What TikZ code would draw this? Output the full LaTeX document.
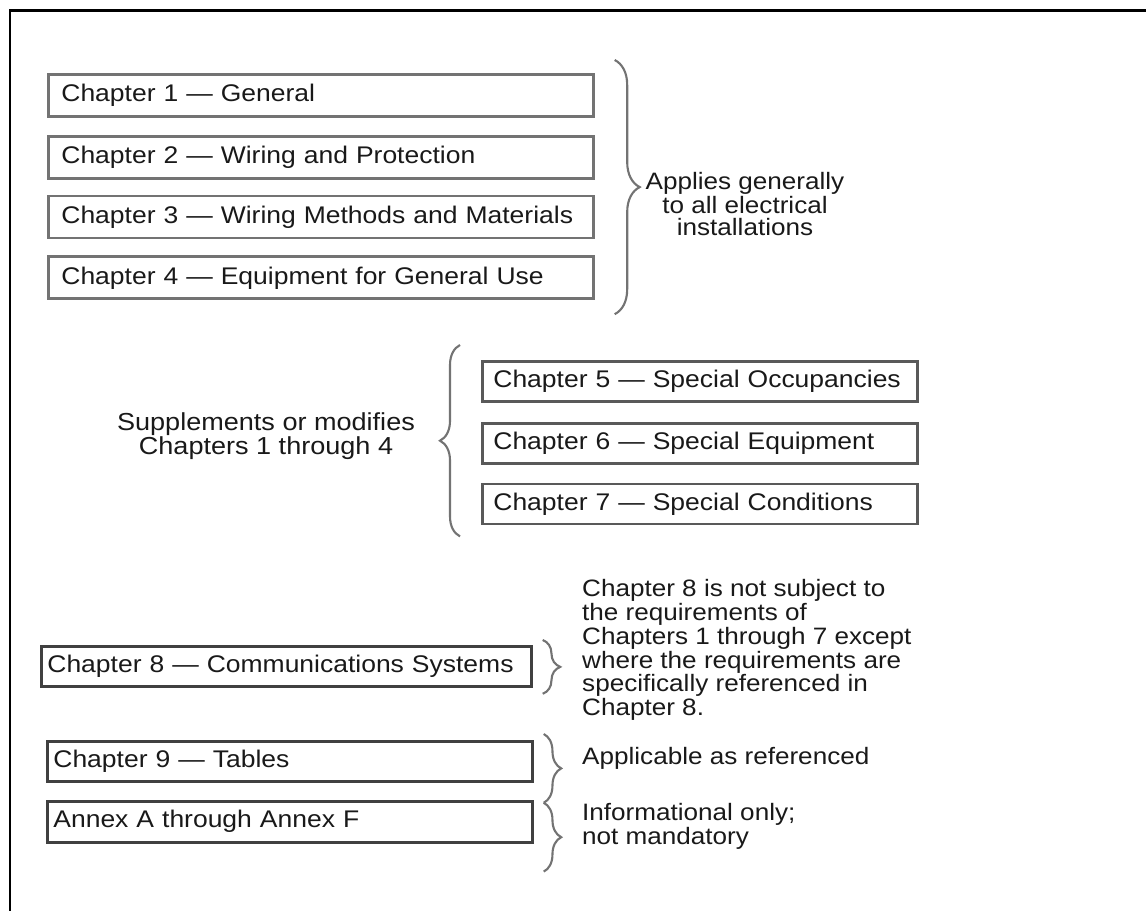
\documentclass[tikz,border=0pt]{standalone}
\usepackage{fontspec}
\setmainfont{Liberation Sans}[FakeStretch = 1.1]
\usetikzlibrary{positioning}
\usetikzlibrary{decorations.pathreplacing}

\tikzset{
	chapbox/.style = {draw = black!55, line width = 1.6pt, text = black!90, align = left, text width = #1, minimum height = 0.84cm, inner xsep = 0.26cm, inner ysep = 0pt, font = \fontsize{13.7}{12.3}\selectfont},
	sidebrace/.style = {draw = black!55, line width = 1.2pt, decorate, decoration = {brace, amplitude = #1}},
	note/.style = {text = black!90}
}

\begin{document}
\begin{tikzpicture}[x = 0.02cm, y = -0.02cm, font = \fontsize{13.5}{12.3}\selectfont]
					\useasboundingbox (0, 0) rectangle (1146, 911);
					\draw [black, line width = 1.7pt] (10, 911) -- (10, 11) -- (1146, 11);
					\node (c1) at (47, 73) [chapbox = 10.38cm, anchor = north west] {Chapter 1 — General};
					\node (c2) [chapbox = 10.38cm, below = 0.34cm of c1] {Chapter 2 — Wiring and Protection};
					\node (c3) [chapbox = 10.38cm, below = 0.3cm of c2] {Chapter 3 — Wiring Methods and Materials};
					\node (c4) [chapbox = 10.38cm, below = 0.32cm of c3] {Chapter 4 — Equipment for General Use};
					\draw [sidebrace = 0.5cm] ([xshift = 0.4cm, yshift = 0.26cm] c1.north east) -- ([xshift = 0.4cm, yshift = -0.28cm] c4.south east);
					\node (gen) at (745, 204) [note, align = center] {Applies generally\\to all electrical\\installations};
					\node (c5) at (481, 360) [chapbox = 8.26cm, anchor = north west, inner xsep = 0.22cm, minimum height = 0.8cm, draw = black!65] {Chapter 5 — Special Occupancies};
					\node (c6) [chapbox = 8.26cm, below = 0.38cm of c5, inner xsep = 0.22cm, minimum height = 0.8cm, draw = black!65] {Chapter 6 — Special Equipment};
					\node (c7) [chapbox = 8.26cm, below = 0.36cm of c6, inner xsep = 0.22cm, minimum height = 0.8cm, draw = black!65] {Chapter 7 — Special Conditions};
					\draw [sidebrace = 0.4cm] ([xshift = -0.42cm, yshift = -0.22cm] c7.south west) -- ([xshift = -0.42cm, yshift = 0.3cm] c5.north west);
					\node (supp) at (266, 436) [note, align = center, font = \fontsize{14}{12.3}\selectfont] {Supplements or modifies\\Chapters 1 through 4};
					\node (c8) at (40, 645) [chapbox = 9.56cm, anchor = north west, inner xsep = 0.12cm, minimum height = 0.8cm, draw = black!75] {Chapter 8 — Communications Systems};
					\node (c9) at (46, 740) [chapbox = 9.46cm, anchor = north west, inner xsep = 0.12cm, minimum height = 0.8cm, draw = black!75] {Chapter 9 — Tables};
					\node (c10) [chapbox = 9.46cm, below = 0.34cm of c9, inner xsep = 0.12cm, minimum height = 0.82cm, draw = black!75] {Annex A through Annex F};
					\draw [sidebrace = 0.35cm] ([xshift = 0.2cm, yshift = 0.1cm] c8.north east) -- ([xshift = 0.2cm, yshift = -0.12cm] c8.south east);
					\draw [sidebrace = 0.35cm] ([xshift = 0.2cm, yshift = 0.12cm] c9.north east) -- ([xshift = 0.2cm, yshift = -0.4cm] c9.south east);
					\draw [sidebrace = 0.35cm] ([xshift = 0.2cm, yshift = -0.06cm] c10.north east) -- ([xshift = 0.2cm, yshift = -0.56cm] c10.south east);
					\node (comm) at (576, 650) [note, anchor = west, align = left] {Chapter 8 is not subject to\\the requirements of\\Chapters 1 through 7 except\\where the requirements are\\specifically referenced in\\Chapter 8.};
					\node (tabl) at (576, 758) [note, anchor = west] {Applicable as referenced};
					\node (annx) at (576, 826) [note, anchor = west, align = left] {Informational only;\\not mandatory};
				\end{tikzpicture}
\end{document}
